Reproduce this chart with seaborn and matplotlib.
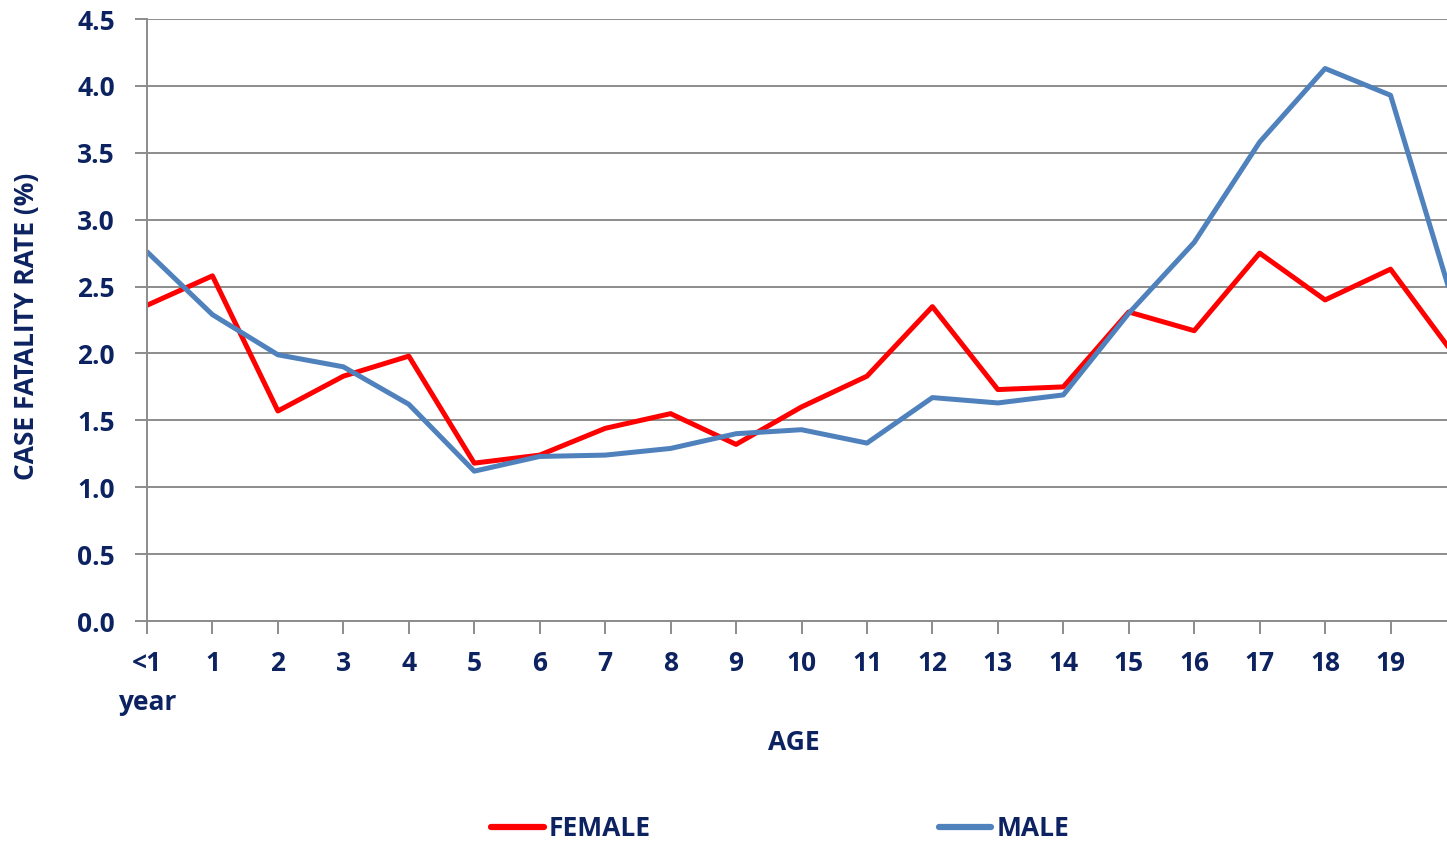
import pandas as pd
import seaborn as sns
import matplotlib.pyplot as plt
from matplotlib.lines import Line2D

# Case fatality rate (%) by age
ages = ["<1\nyear", "1", "2", "3", "4", "5", "6", "7", "8", "9", "10",
        "11", "12", "13", "14", "15", "16", "17", "18", "19", "20"]
female = [2.36, 2.58, 1.57, 1.83, 1.98, 1.18, 1.24, 1.44, 1.55, 1.32, 1.60,
          1.83, 2.35, 1.73, 1.75, 2.31, 2.17, 2.75, 2.40, 2.63, 1.97]
male = [2.76, 2.29, 1.99, 1.90, 1.62, 1.12, 1.23, 1.24, 1.29, 1.40, 1.43,
        1.33, 1.67, 1.63, 1.69, 2.30, 2.83, 3.58, 4.13, 3.93, 2.31]
y_ticks = [0.0, 0.5, 1.0, 1.5, 2.0, 2.5, 3.0, 3.5, 4.0, 4.5]

TEXT = "#0D2361"
GRID = "#8c8c8c"
colors = {"FEMALE": "#FF0000", "MALE": "#4F81BD"}

df = pd.concat([
    pd.DataFrame({"pos": range(len(ages)), "rate": female, "sex": "FEMALE"}),
    pd.DataFrame({"pos": range(len(ages)), "rate": male, "sex": "MALE"}),
])

sns.set_theme(style="white")
plt.rcParams["font.family"] = ["Open Sans", "DejaVu Sans"]
plt.rcParams["font.weight"] = "bold"
FS = 19

fig = plt.figure(figsize=(14.47, 8.42), dpi=100)
ax = fig.add_axes([147 / 1447, 1 - 621 / 842, (1456 - 147) / 1447, (621 - 19) / 842])

sns.lineplot(data=df, x="pos", y="rate", hue="sex", palette=colors,
             linewidth=3.6, legend=False, ax=ax, sort=False)

ax.set_xlim(0, len(ages) - 1)
ax.set_ylim(0, 4.5)
ax.set_yticks(y_ticks)
ax.set_yticklabels([f"{v:.1f}" for v in y_ticks], fontsize=FS, color=TEXT, fontweight="bold")
ax.set_xticks(range(len(ages)))
# last category is cut off by the right edge in the reference, so no visible label
ax.set_xticklabels(ages[:-1] + [""], fontsize=FS, color=TEXT, fontweight="bold", linespacing=1.55)
for lab in ax.get_xticklabels():
    lab.set_verticalalignment("top")

ax.yaxis.grid(True, color=GRID, linewidth=1.4)
ax.set_axisbelow(True)
for side in ["top", "right"]:
    ax.spines[side].set_visible(False)
for side in ["left", "bottom"]:
    ax.spines[side].set_color(GRID)
    ax.spines[side].set_linewidth(1.4)
ax.tick_params(axis="both", which="both", direction="out", length=9, width=1.4,
               color=GRID, left=True, bottom=True)
ax.tick_params(axis="x", pad=12)
ax.tick_params(axis="y", pad=14)

ax.set_xlabel("AGE", fontsize=FS, color=TEXT, fontweight="bold")
ax.set_ylabel("CASE FATALITY RATE (%)", fontsize=FS, color=TEXT, fontweight="bold")
ax.xaxis.set_label_coords((794 - 147) / (1456 - 147), -(742 - 621) / (621 - 19))
ax.xaxis.label.set_verticalalignment("center")
ax.yaxis.set_label_coords(-(147 - 27) / (1456 - 147), (621 - 326) / (621 - 19))
ax.yaxis.label.set_verticalalignment("center")

handles = [Line2D([], [], color=colors[k], linewidth=4.5, solid_capstyle="round") for k in colors]
fig.legend(handles, list(colors), loc="center left", bbox_to_anchor=(491 / 1447, 1 - 829 / 842),
           ncol=2, frameon=False, handlelength=2.0, handletextpad=0.2,
           columnspacing=10.9, borderpad=0, borderaxespad=0,
           prop={"weight": "bold", "size": FS})
for t in fig.legends[0].get_texts():
    t.set_color(TEXT)

fig.savefig("out.png", dpi=100)
